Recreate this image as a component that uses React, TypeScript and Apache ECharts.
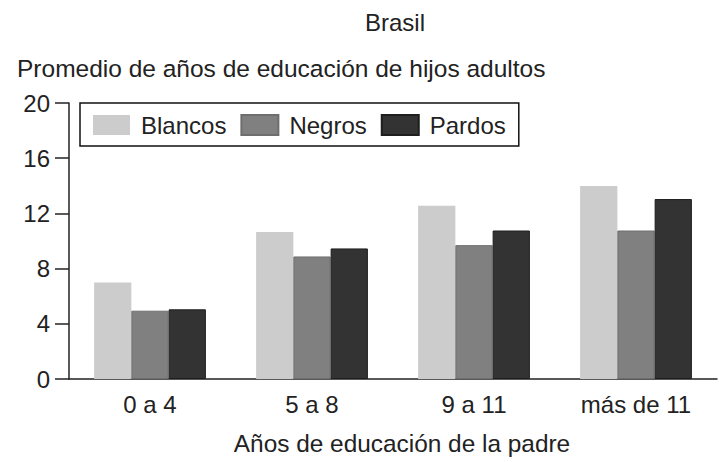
import React, { useEffect, useRef } from "react";
import * as echarts from "echarts";

const categories = ["0 a 4", "5 a 8", "9 a 11", "más de 11"];
const blancos = [7.0, 10.65, 12.55, 13.98];
const negros = [4.95, 8.88, 9.7, 10.76];
const pardos = [5.05, 9.46, 10.76, 13.04];
const yTicks = { min: 0, max: 20, interval: 4 };

const FONT = "'Liberation Sans', Arial, sans-serif";
const TXT = "#222";

export default function App() {
  const ref = useRef<HTMLDivElement>(null);
  useEffect(() => {
    if (!ref.current) return;
    const chart = echarts.init(ref.current, undefined, { renderer: "svg" });
    chart.setOption({
      animation: false,
      backgroundColor: "#ffffff",
      textStyle: { fontFamily: FONT },
      title: [
        {
          text: "Brasil",
          left: 365,
          top: 10,
          padding: 0,
          textStyle: { fontFamily: FONT, fontSize: 24, fontWeight: "normal", color: TXT },
        },
        {
          text: "Promedio de años de educación de hijos adultos",
          left: 17,
          top: 56,
          padding: 0,
          textStyle: { fontFamily: FONT, fontSize: 24.5, fontWeight: "normal", color: TXT },
        },
      ],
      legend: {
        left: 80,
        top: 103,
        padding: [10, 13, 9, 13],
        itemWidth: 37,
        itemHeight: 20,
        itemGap: 14,
        borderColor: "#111",
        borderWidth: 1.5,
        icon: "rect",
        textStyle: { fontFamily: FONT, fontSize: 24, color: TXT, padding: [0, 0, 0, 6] },
        data: ["Blancos", "Negros", "Pardos"],
      },
      grid: { left: 69, right: 2, top: 103, bottom: 83, outerBoundsMode: "none" },
      xAxis: {
        type: "category",
        data: categories,
        name: "Años de educación de la padre",
        nameLocation: "middle",
        nameGap: 52,
        nameTextStyle: { fontFamily: FONT, fontSize: 24.4, color: TXT, padding: [0, 0, 0, 18] },
        axisLine: { lineStyle: { color: "#222", width: 1.5 } },
        axisTick: { length: 12, lineStyle: { color: "#222", width: 1.5 } },
        axisLabel: { fontFamily: FONT, fontSize: 24, color: TXT, margin: 13 },
      },
      yAxis: {
        type: "value",
        min: yTicks.min,
        max: yTicks.max,
        interval: yTicks.interval,
        splitLine: { show: false },
        axisLine: { show: true, lineStyle: { color: "#222", width: 1.5 } },
        axisTick: { show: true, length: 14, lineStyle: { color: "#222", width: 1.5 } },
        axisLabel: { fontFamily: FONT, fontSize: 24, color: TXT, margin: 19 },
      },
      series: [
        {
          name: "Blancos",
          type: "bar",
          data: blancos,
          barGap: "0%",
          barCategoryGap: "31%",
          itemStyle: { color: "#cccccc" },
        },
        {
          name: "Negros",
          type: "bar",
          data: negros,
          barGap: "0%",
          barCategoryGap: "31%",
          itemStyle: { color: "#808080", borderColor: "#6e6e6e", borderWidth: 1 },
        },
        {
          name: "Pardos",
          type: "bar",
          data: pardos,
          barGap: "0%",
          barCategoryGap: "31%",
          itemStyle: { color: "#333333", borderColor: "#1e1e1e", borderWidth: 1 },
        },
      ],
    });
    return () => chart.dispose();
  }, []);
  return (
    <div
      ref={ref}
      style={{ position: "fixed", left: 0, top: 0, width: 719, height: 462, background: "#fff" }}
    />
  );
}
